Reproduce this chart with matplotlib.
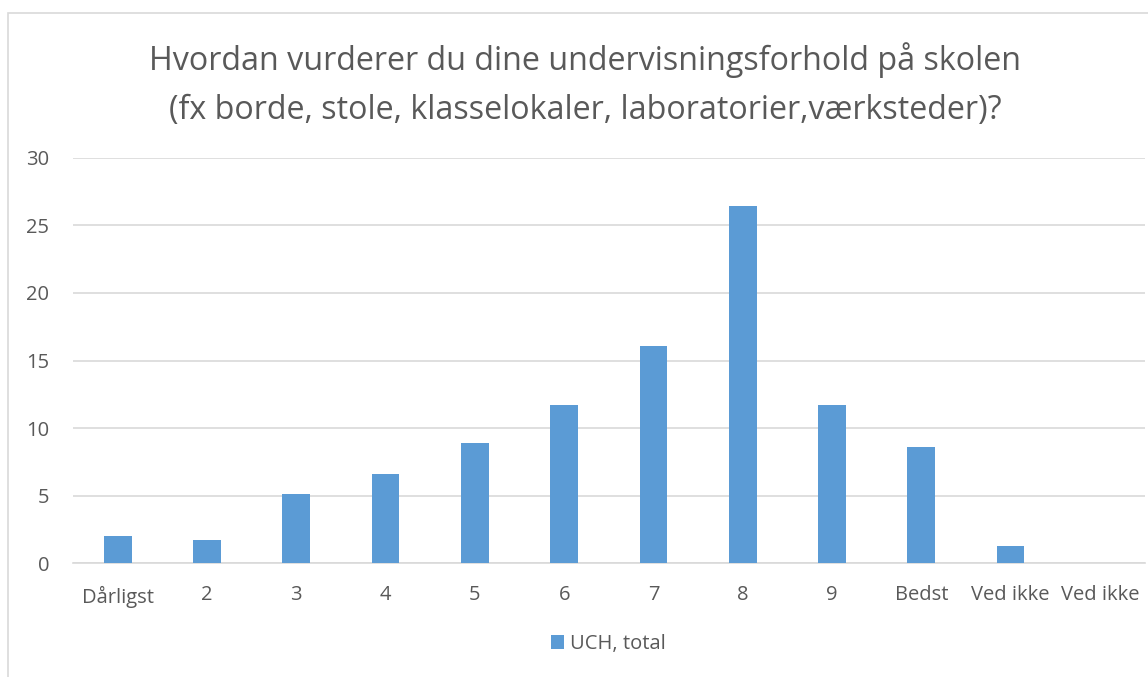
import matplotlib.pyplot as plt
import matplotlib.patches as mpatches
import numpy as np

plt.rcParams['font.family'] = ['Open Sans', 'DejaVu Sans']

categories = ["Dårligst", "2", "3", "4", "5", "6", "7", "8", "9", "Bedst", "Ved ikke", "Ved ikke"]
values = [2.0, 1.7, 5.1, 6.6, 8.9, 11.7, 16.1, 26.4, 11.7, 8.6, 1.3, 0.0]
series_name = "UCH, total"
title = "Hvordan vurderer du dine undervisningsforhold på skolen\n(fx borde, stole, klasselokaler, laboratorier,værksteder)?"

bar_color = "#5B9BD5"
text_color = "#595959"
grid_color = "#D9D9D9"

fig = plt.figure(figsize=(11.48, 6.77), dpi=100)
ax = fig.add_axes([0.0636, 0.168, 0.9334, 0.599])

# chart frame (extends past the right/bottom edge like the screenshot)
frame = mpatches.Rectangle((8 / 1148, -0.1), 1.2, 1 - 13 / 677 + 0.1,
                           transform=fig.transFigure, fill=False,
                           edgecolor=grid_color, linewidth=1.2)
fig.patches.append(frame)

x = np.arange(len(categories))
ax.bar(x, values, width=0.31, color=bar_color, label=series_name, zorder=3)

ax.set_xlim(-0.5, len(categories) - 0.5)
ax.set_ylim(0, 30)
ax.set_yticks(range(0, 31, 5))
ax.set_xticks(x)
ax.set_xticklabels(categories)
ax.grid(axis='y', color=grid_color, linewidth=1.2, zorder=0)
ax.tick_params(axis='both', length=0, labelsize=14.5, colors=text_color)
ax.tick_params(axis='x', pad=16)
ax.tick_params(axis='y', pad=17)
for s in ["top", "right", "left"]:
    ax.spines[s].set_visible(False)
ax.spines["bottom"].set_color(grid_color)
ax.spines["bottom"].set_linewidth(1.2)

fig.text(0.51, 0.875, title, ha='center', va='center', fontsize=23.2,
         color=text_color, linespacing=1.65)

ax.legend(loc='upper center', bbox_to_anchor=(0.5, -0.13), frameon=False,
          fontsize=14.5, labelcolor=text_color, handlelength=0.65, handleheight=0.65,
          handletextpad=0.3)

fig.savefig("out.png", dpi=100, facecolor="white")
